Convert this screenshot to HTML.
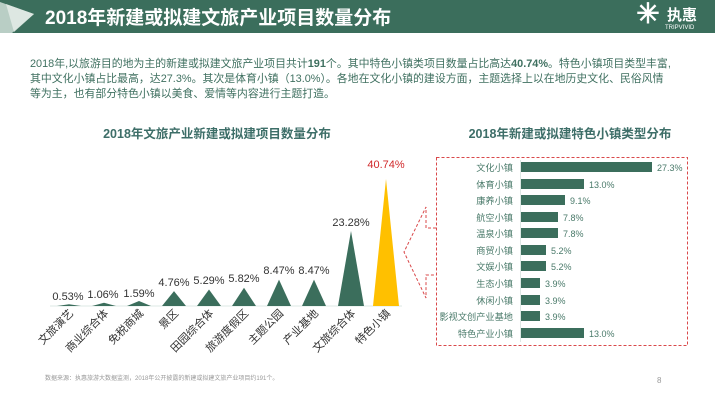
<!DOCTYPE html>
<html><head><meta charset="utf-8"><style>
body{margin:0;width:715px;height:400px;background:#fff;overflow:hidden;font-family:"Liberation Sans","Noto Sans CJK SC",sans-serif;}
</style></head><body>
<svg width="715" height="400" xmlns="http://www.w3.org/2000/svg" font-family="Liberation Sans, Noto Sans CJK SC, sans-serif">
<rect x="0" y="0" width="715" height="33" fill="#3b6e5c"/>
<polygon points="0,2 34,14 12,33 0,33" fill="#c8d8d0" opacity="0.9"/>
<polygon points="6,4 34,14 14,32" fill="#e6eee9" opacity="0.8"/>
<text x="45" y="24" font-size="19" font-weight="bold" fill="#fff">2018年新建或拟建文旅产业项目数量分布</text>
<text x="648" y="23" font-size="28" fill="#fff" text-anchor="middle" font-weight="bold">✳</text>
<text x="667" y="20" font-size="15" font-weight="bold" fill="#fff">执惠</text>
<text x="665" y="29" font-size="6" fill="#fff">TRIPVIVID</text>
<g font-size="10.9" fill="#3f7060">
<text x="30" y="67">2018年,以旅游目的地为主的新建或拟建文旅产业项目共计<tspan font-weight="bold">191</tspan>个。其中特色小镇类项目数量占比高达<tspan font-weight="bold">40.74%</tspan>。特色小镇项目类型丰富,</text>
<text x="30" y="82">其中文化小镇占比最高，达27.3%。其次是体育小镇（13.0%）。各地在文化小镇的建设方面，主题选择上以在地历史文化、民俗风情</text>
<text x="30" y="97">等为主，也有部分特色小镇以美食、爱情等内容进行主题打造。</text>
</g>
<text x="217" y="138" font-size="12.5" font-weight="bold" fill="#3d6e68" text-anchor="middle">2018年文旅产业新建或拟建项目数量分布</text>
<text x="570" y="138" font-size="12.5" font-weight="bold" fill="#3d6e68" text-anchor="middle">2018年新建或拟建特色小镇类型分布</text>
<line x1="50" y1="306" x2="402" y2="306" stroke="#dde8e4" stroke-width="1"/>
<g fill="#3b6e5c">
<polygon points="57,306 69,304.3 81,306"/>
<polygon points="92,306 104,302.7 116,306"/>
<polygon points="127,306 139,301 151,306"/>
<polygon points="162,306 174,291.1 186,306"/>
<polygon points="197,306 209,289.5 221,306"/>
<polygon points="232,306 244,287.8 256,306"/>
<polygon points="267,306 279,279.6 291,306"/>
<polygon points="302,306 314,279.6 326,306"/>
<polygon points="338,306 351,231 364,306"/>
</g>
<polygon points="373,306 386,179 399,306" fill="#ffc000"/>
<g font-size="11" fill="#333" text-anchor="middle">
<text x="68" y="300">0.53%</text><text x="103" y="298">1.06%</text><text x="139" y="297">1.59%</text>
<text x="174" y="286">4.76%</text><text x="209" y="284">5.29%</text><text x="244" y="282">5.82%</text>
<text x="279" y="274">8.47%</text><text x="314" y="274">8.47%</text><text x="351" y="226">23.28%</text>
<text x="386" y="168" fill="#d0282a">40.74%</text>
</g>
<g font-size="11" fill="#333" text-anchor="end">
<text transform="translate(74,314) rotate(-45)">文旅演艺</text>
<text transform="translate(109,314) rotate(-45)">商业综合体</text>
<text transform="translate(144,314) rotate(-45)">免税商城</text>
<text transform="translate(179,314) rotate(-45)">景区</text>
<text transform="translate(214,314) rotate(-45)">田园综合体</text>
<text transform="translate(249,314) rotate(-45)">旅游度假区</text>
<text transform="translate(284,314) rotate(-45)">主题公园</text>
<text transform="translate(319,314) rotate(-45)">产业基地</text>
<text transform="translate(356,314) rotate(-45)">文旅综合体</text>
<text transform="translate(391,314) rotate(-45)">特色小镇</text>
</g>
<text x="45" y="380" font-size="6" fill="#999">数据来源：执惠旅游大数据监测，2018年公开披露的新建或拟建文旅产业项目约191个。</text>
<text x="657" y="383" font-size="8" fill="#999">8</text>
<g fill="none" stroke="#d9484a" stroke-width="1" stroke-dasharray="3,2">
<rect x="436.5" y="157.5" width="251" height="188"/>
<polyline points="436,228 426,228 426,207 404,252 426,298 426,275 436,275"/>
</g>
<line x1="520.5" y1="160" x2="520.5" y2="342" stroke="#dde8e4"/>
<g fill="#3b6e5c">
<rect x="521" y="162" width="131" height="10"/>
<rect x="521" y="179" width="63" height="10"/>
<rect x="521" y="195" width="44" height="10"/>
<rect x="521" y="212" width="37" height="10"/>
<rect x="521" y="228" width="37" height="10"/>
<rect x="521" y="245" width="25" height="10"/>
<rect x="521" y="261" width="25" height="10"/>
<rect x="521" y="278" width="19" height="10"/>
<rect x="521" y="295" width="19" height="10"/>
<rect x="521" y="311" width="19" height="10"/>
<rect x="521" y="328" width="63" height="10"/>
</g>
<g font-size="9.2" fill="#4a7a6a" text-anchor="end">
<text x="513" y="171">文化小镇</text><text x="513" y="188">体育小镇</text><text x="513" y="204">康养小镇</text>
<text x="513" y="221">航空小镇</text><text x="513" y="237">温泉小镇</text><text x="513" y="254">商贸小镇</text>
<text x="513" y="270">文娱小镇</text><text x="513" y="287">生态小镇</text><text x="513" y="304">休闲小镇</text>
<text x="513" y="320">影视文创产业基地</text><text x="513" y="337">特色产业小镇</text>
</g>
<g font-size="9" fill="#4a7a6a">
<text x="657" y="171">27.3%</text><text x="589" y="188">13.0%</text><text x="570" y="204">9.1%</text>
<text x="563" y="221">7.8%</text><text x="563" y="237">7.8%</text><text x="551" y="254">5.2%</text>
<text x="551" y="270">5.2%</text><text x="545" y="287">3.9%</text><text x="545" y="304">3.9%</text>
<text x="545" y="320">3.9%</text><text x="589" y="337">13.0%</text>
</g>
</svg>
</body></html>
